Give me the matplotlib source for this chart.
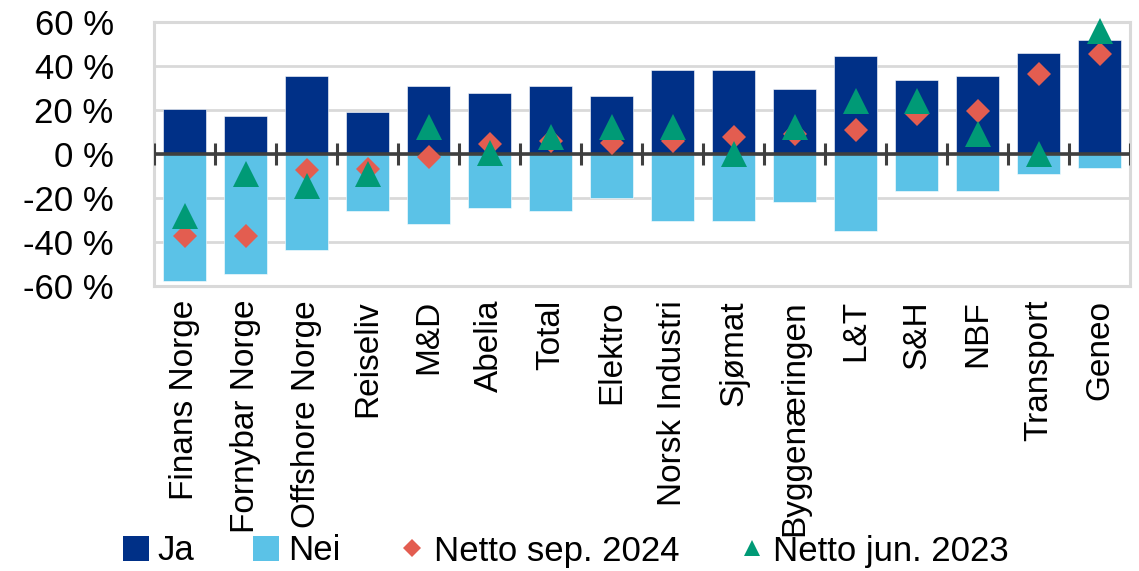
import numpy as np
import matplotlib
matplotlib.use('Agg')
import matplotlib.pyplot as plt
from matplotlib.patches import Patch
from matplotlib.lines import Line2D

# ─── Data (%) ────────────────────────────────────────────────────────────────
KATEGORIER = ["Finans Norge", "Fornybar Norge", "Offshore Norge", "Reiseliv",
              "M&D", "Abelia", "Total", "Elektro", "Norsk Industri", "Sjømat",
              "Byggenæringen", "L&T", "S&H", "NBF", "Transport", "Geneo"]

JA  = [20.5, 17.4, 35.3, 18.9, 30.9, 27.8, 30.9, 26.3, 38.4, 38.4,
       29.4, 44.4, 33.8, 35.3, 45.9, 51.8]
NEI = [-57.5, -54.4, -43.7, -25.8, -32.0, -24.6, -25.8, -20.0, -30.4, -30.4,
       -21.6, -35.0, -17.0, -17.0, -9.3, -6.3]
NETTO_SEP_2024 = [-37.2, -37.1, -7.3, -6.9, -1.2, 4.7, 6.0, 5.2, 6.0, 7.8,
                  9.0, 10.9, 18.2, 19.7, 36.2, 45.4]
NETTO_JUN_2023 = [-28.4, -8.9, -14.7, -8.9, 12.1, 0.3, 7.7, 12.1, 12.1, 0.0,
                  12.1, 24.3, 24.3, 9.3, 0.0, 55.8]

Y_TICKS = [-60, -40, -20, 0, 20, 40, 60]

# ─── Farger ──────────────────────────────────────────────────────────────────
C_JA    = "#003087"
C_NEI   = "#5BC2E7"
C_SEP   = "#E35D50"
C_JUN   = "#009A76"
C_GRID  = "#D9D9D9"
C_NULL  = "#3F3F3F"

plt.rcParams.update({
    "font.family": ["Liberation Sans", "DejaVu Sans"],
    "axes.facecolor": "white",
    "figure.facecolor": "white",
})

fig = plt.figure(figsize=(11.39, 5.71), dpi=100)
ax = fig.add_axes([154 / 1139, 1 - 286 / 571, (1130 - 154) / 1139, (286 - 22) / 571])

x = np.arange(len(KATEGORIER))
bw = 0.69

ax.bar(x, JA, width=bw, color=C_JA, edgecolor="white", linewidth=0.4, zorder=2)
ax.bar(x, NEI, width=bw, color=C_NEI, edgecolor="white", linewidth=0.4, zorder=2)

# null-linje med små streker mellom kategoriene
ax.axhline(0, color=C_NULL, linewidth=2.6, zorder=3)
grenser = np.arange(len(KATEGORIER) + 1) - 0.5
ax.vlines(grenser, -5, 5, color=C_NULL, linewidth=2.2, zorder=3)

ax.plot(x, NETTO_SEP_2024, linestyle="none", marker="D", markersize=12.5,
        color=C_SEP, markeredgewidth=0, zorder=4, clip_on=False)
ax.plot(x, NETTO_JUN_2023, linestyle="none", marker="^", markersize=19,
        color=C_JUN, markeredgewidth=0, zorder=5, clip_on=False)

# ─── Akser ───────────────────────────────────────────────────────────────────
ax.set_xlim(-0.5, len(KATEGORIER) - 0.5)
ax.set_ylim(-60, 60)
ax.set_yticks(Y_TICKS)
ax.set_yticklabels([f"{v} %" for v in Y_TICKS], fontsize=25)
ax.set_xticks(x)
ax.set_xticklabels(KATEGORIER, rotation=90, fontsize=24, ha="center", va="top")
ax.tick_params(axis="y", length=0, pad=29)
ax.tick_params(axis="x", length=0, pad=10)

ax.yaxis.grid(True, color=C_GRID, linewidth=2.0, zorder=0)
ax.set_axisbelow(True)
for sp in ax.spines.values():
    sp.set_color(C_GRID)
    sp.set_linewidth(2.2)

# ─── Legende ─────────────────────────────────────────────────────────────────
handles = [
    Patch(facecolor=C_JA, label="Ja"),
    Patch(facecolor=C_NEI, label="Nei"),
    Line2D([], [], linestyle="none", marker="D", markersize=9, color=C_SEP,
           markeredgewidth=0, label="Netto sep. 2024"),
    Line2D([], [], linestyle="none", marker="^", markersize=12, color=C_JUN,
           markeredgewidth=0, label="Netto jun. 2023"),
]
fig.legend(handles=handles, loc="center", bbox_to_anchor=(566 / 1139, 20 / 571),
           ncol=4, frameon=False, fontsize=25, handlelength=0.75,
           handleheight=0.7, handletextpad=0.25, columnspacing=1.7,
           borderpad=0, borderaxespad=0)

fig.savefig("out.png", dpi=100, facecolor="white")
